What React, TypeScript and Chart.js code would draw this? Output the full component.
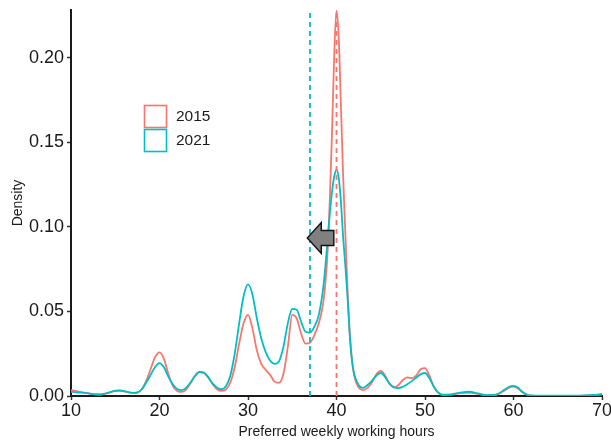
import { useEffect, useRef } from "react";
import { Chart, registerables } from "chart.js";

Chart.register(...registerables);

// Preferred weekly working hours (x positions of the density estimates)
const hours = [
  10, 10.5, 11, 11.5, 12, 12.5, 13, 13.5, 14, 14.5,
  15, 15.5, 16, 16.5, 17, 17.5, 18, 18.5, 19, 19.5,
  20, 20.5, 21, 21.5, 22, 22.5, 23, 23.5, 24, 24.5,
  25, 25.5, 26, 26.5, 27, 27.5, 28, 28.5, 29, 29.5,
  30, 30.5, 31, 31.5, 32, 32.5, 33, 33.5, 34, 34.5,
  35, 35.5, 36, 36.5, 37, 37.5, 38, 38.5,
  38.75, 39, 39.25, 39.5, 39.75, 40, 40.25, 40.5, 40.75, 41, 41.25, 41.5, 41.75, 42,
  42.5, 43, 43.5, 44, 44.5, 45, 45.5, 46, 46.5, 47,
  47.5, 48, 48.5, 49, 49.5, 50, 50.5, 51, 51.5, 52,
  53, 54, 55, 56, 57, 58, 59,
  59.5, 60, 60.5, 61, 61.5, 62,
  63, 64, 65, 66, 67, 68, 69, 70,
];

const density2015 = [
  0.0035, 0.003, 0.0025, 0.002, 0.0016, 0.0011, 0.0009, 0.001, 0.0015, 0.0023,
  0.003, 0.0031, 0.0027, 0.0021, 0.0017, 0.002, 0.004, 0.009, 0.016, 0.023,
  0.0258, 0.022, 0.013, 0.006, 0.003, 0.0024, 0.0038, 0.0075, 0.0118, 0.0142,
  0.0138, 0.011, 0.007, 0.004, 0.003, 0.0038, 0.008, 0.017, 0.031, 0.043,
  0.048, 0.04, 0.027, 0.019, 0.0155, 0.0125, 0.0085, 0.0078, 0.013, 0.029,
  0.048, 0.046, 0.037, 0.031, 0.0315, 0.036, 0.043, 0.055,
  0.067, 0.086, 0.117, 0.157, 0.203, 0.228, 0.212, 0.172, 0.13, 0.096, 0.063, 0.037, 0.021, 0.012,
  0.005, 0.0035, 0.0048, 0.008, 0.0128, 0.0148, 0.012, 0.0072, 0.005, 0.0065,
  0.0095, 0.011, 0.0105, 0.012, 0.0158, 0.0165, 0.012, 0.0055, 0.0018, 0.0006,
  0.0008, 0.0017, 0.002, 0.0012, 0.0004, 0.0006, 0.0033,
  0.0049, 0.0055, 0.0045, 0.0022, 0.0008, 0.0002,
  0.0001, 0.0001, 0.0001, 0.0001, 0.0001, 0.0002, 0.0004, 0.0008,
];

const density2021 = [
  0.0025, 0.0022, 0.002, 0.0018, 0.0015, 0.0011, 0.0009, 0.001, 0.0015, 0.0024,
  0.0031, 0.0033, 0.0029, 0.0023, 0.0019, 0.0022, 0.004, 0.008, 0.0125, 0.0172,
  0.0195, 0.017, 0.0115, 0.007, 0.0042, 0.0035, 0.0048, 0.008, 0.0118, 0.0141,
  0.0138, 0.0112, 0.0075, 0.005, 0.004, 0.0058, 0.012, 0.025, 0.043, 0.059,
  0.066, 0.06, 0.046, 0.034, 0.026, 0.021, 0.019, 0.0205, 0.029, 0.043,
  0.0515, 0.051, 0.044, 0.038, 0.0375, 0.041, 0.048, 0.064,
  0.077, 0.093, 0.108, 0.121, 0.13, 0.134, 0.129, 0.115, 0.094, 0.077, 0.058, 0.036, 0.021, 0.013,
  0.0065, 0.0048, 0.0065, 0.009, 0.012, 0.0136, 0.0112, 0.0072, 0.0052, 0.0047,
  0.0055, 0.007, 0.0088, 0.0108, 0.0128, 0.0136, 0.0105, 0.0055, 0.002, 0.0008,
  0.001, 0.002, 0.0025, 0.0015, 0.0005, 0.0008, 0.0038,
  0.0055, 0.006, 0.005, 0.0025, 0.0009, 0.0003,
  0.0002, 0.0002, 0.0002, 0.0002, 0.0002, 0.0003, 0.0006, 0.0012,
];

const seriesLabels = ["2015", "2021"];
const meanHours = [40, 37]; // 2015, 2021
const xTicks = [10, 20, 30, 40, 50, 60, 70];
const yTicks = [0, 0.05, 0.1, 0.15, 0.2];
const arrowFrom = { x: 39.7, y: 0.0935 };
const arrowTo = { x: 36.7, y: 0.0935 };

const COLORS = ["#F8766D", "#00BFC4"];
const FONT = "'Liberation Sans', Arial, sans-serif";
const TEXT = "#1a1a1a";

const overlayPlugin = {
  id: "overlay",
  afterDatasetsDraw(chart: any) {
    const { ctx, chartArea, scales } = chart;
    const xs = scales.x;
    const ys = scales.y;
    ctx.save();
    // mean lines
    meanHours.forEach((v, i) => {
      const px = xs.getPixelForValue(v);
      ctx.beginPath();
      ctx.setLineDash([5, 4]);
      ctx.lineWidth = 1.8;
      ctx.strokeStyle = COLORS[i];
      ctx.moveTo(px, chartArea.bottom);
      ctx.lineTo(px, chartArea.top);
      ctx.stroke();
    });
    ctx.setLineDash([]);

    // arrow
    const x0 = xs.getPixelForValue(arrowFrom.x);
    const x1 = xs.getPixelForValue(arrowTo.x);
    const yc = ys.getPixelForValue(arrowFrom.y);
    const shaftH = 7.5;
    const headH = 15.5;
    const headL = 14;
    ctx.beginPath();
    ctx.moveTo(x0, yc - shaftH);
    ctx.lineTo(x1 + headL, yc - shaftH);
    ctx.lineTo(x1 + headL, yc - headH);
    ctx.lineTo(x1, yc);
    ctx.lineTo(x1 + headL, yc + headH);
    ctx.lineTo(x1 + headL, yc + shaftH);
    ctx.lineTo(x0, yc + shaftH);
    ctx.closePath();
    ctx.fillStyle = "#808080";
    ctx.fill();
    ctx.lineWidth = 1.4;
    ctx.strokeStyle = "#111";
    ctx.lineJoin = "miter";
    ctx.stroke();

    // legend
    const lx = chartArea.left + 73;
    const ly = chartArea.top + 95;
    const box = 23;
    seriesLabels.forEach((lab, i) => {
      const top = ly + i * (box + 1);
      ctx.fillStyle = "#ffffff";
      ctx.fillRect(lx, top, box, box);
      ctx.lineWidth = 1.6;
      ctx.strokeStyle = COLORS[i];
      ctx.strokeRect(lx + 0.5, top + 0.5, box - 1, box - 1);
      ctx.fillStyle = TEXT;
      ctx.font = `15.5px ${FONT}`;
      ctx.textAlign = "left";
      ctx.textBaseline = "middle";
      ctx.fillText(lab, lx + box + 9, top + box / 2 + 0.5);
    });
    ctx.restore();
  },
};

export default function App() {
  const ref = useRef<HTMLCanvasElement>(null);

  useEffect(() => {
    if (!ref.current) return;
    const toPoints = (arr: number[]) => hours.map((h, i) => ({ x: h, y: arr[i] }));
    const chart = new Chart(ref.current, {
      type: "line",
      data: {
        datasets: [
          {
            label: seriesLabels[0],
            data: toPoints(density2015),
            borderColor: COLORS[0],
            borderWidth: 1.8,
            pointRadius: 0,
            fill: false,
            cubicInterpolationMode: "monotone",
            order: 1,
          },
          {
            label: seriesLabels[1],
            data: toPoints(density2021),
            borderColor: COLORS[1],
            borderWidth: 1.8,
            pointRadius: 0,
            fill: false,
            cubicInterpolationMode: "monotone",
            order: 0,
          },
        ],
      },
      options: {
        animation: false,
        responsive: false,
        maintainAspectRatio: false,
        layout: { padding: { top: 10, right: 9, left: 0, bottom: 0 } },
        plugins: {
          legend: { display: false },
          tooltip: { enabled: false },
        },
        scales: {
          x: {
            type: "linear",
            min: 10,
            max: 70,
            afterFit: (s: any) => {
              s.height = 45;
              s.paddingLeft = 0;
              s.paddingRight = 0;
            },
            afterBuildTicks: (s: any) => {
              s.ticks = xTicks.map((v) => ({ value: v }));
            },
            ticks: {
              font: { family: FONT, size: 18 },
              color: TEXT,
              padding: 0,
              maxRotation: 0,
              callback: (v: any) => String(v),
            },
            grid: {
              drawOnChartArea: false,
              drawTicks: true,
              tickLength: 4,
              tickWidth: 1.5,
              color: "#333",
            },
            border: { display: true, color: "#1a1a1a", width: 2 },
            title: {
              display: true,
              text: "Preferred weekly working hours",
              font: { family: FONT, size: 14 },
              color: TEXT,
              padding: { top: 0, bottom: 0 },
            },
          },
          y: {
            type: "linear",
            min: 0,
            max: 0.2284,
            afterFit: (s: any) => {
              s.width = 71;
              s.paddingTop = 0;
              s.paddingBottom = 0;
            },
            afterBuildTicks: (s: any) => {
              s.ticks = yTicks.map((v) => ({ value: v }));
            },
            ticks: {
              font: { family: FONT, size: 18 },
              color: TEXT,
              padding: 3,
              callback: (v: any) => Number(v).toFixed(2),
            },
            grid: {
              drawOnChartArea: false,
              drawTicks: true,
              tickLength: 4,
              tickWidth: 1.5,
              color: "#333",
            },
            border: { display: true, color: "#1a1a1a", width: 2 },
            title: {
              display: true,
              text: "Density",
              font: { family: FONT, size: 14 },
              color: TEXT,
              padding: { top: 10, bottom: 0 },
            },
          },
        },
      },
      plugins: [overlayPlugin],
    });
    return () => chart.destroy();
  }, []);

  return (
    <div style={{ position: "absolute", left: 0, top: 0, width: 611, height: 441, background: "#fff" }}>
      <canvas ref={ref} width={611} height={441} style={{ display: "block" }} />
    </div>
  );
}
